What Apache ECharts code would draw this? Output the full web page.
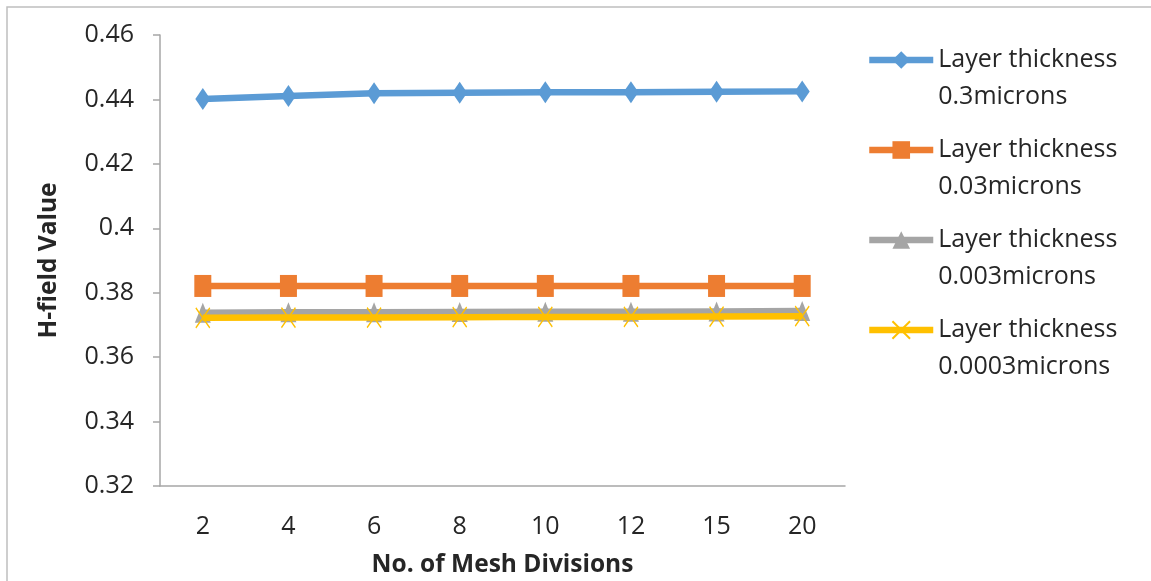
<!DOCTYPE html>
<html>
<head>
<meta charset="utf-8">
<script src="https://cdn.jsdelivr.net/npm/echarts@6/dist/echarts.min.js"></script>
<style>
  html, body { margin: 0; padding: 0; background: #fff; }
  #main { width: 1151px; height: 581px; }
</style>
</head>
<body>
<div id="main"></div>
<script>
// data
var meshDivisions = ['2', '4', '6', '8', '10', '12', '15', '20'];
var names = ['Layer thickness 0.3microns', 'Layer thickness 0.03microns',
             'Layer thickness 0.003microns', 'Layer thickness 0.0003microns'];
var h03 = [0.4401, 0.4411, 0.4419, 0.4421, 0.4422, 0.4422, 0.4424, 0.4425];
var h003 = [0.3821, 0.3821, 0.3821, 0.3821, 0.3821, 0.3821, 0.3821, 0.3821];
var h0003 = [0.3738, 0.3739, 0.3739, 0.3740, 0.3741, 0.3741, 0.3742, 0.3743];
var h00003 = [0.3722, 0.3723, 0.3723, 0.3724, 0.3725, 0.3725, 0.3726, 0.3727];
var yTicks = [0.32, 0.34, 0.36, 0.38, 0.4, 0.42, 0.44, 0.46];

var font = '"Open Sans", "Liberation Sans", sans-serif';
var colors = ['#5B9BD5', '#ED7D31', '#A5A5A5', '#FFC000'];
var crossPath = 'path://M0,0 L10,12 M10,0 L0,12';

var myChart = echarts.init(document.getElementById('main'));

function makeSeries(i, data, symbol, size) {
    var s = {
        name: names[i],
        type: 'line',
        data: data,
        symbol: symbol,
        symbolSize: size,
        lineStyle: { width: 6.5, color: colors[i] },
        itemStyle: { color: colors[i] },
        z: 2 + (i == 3 ? 1 : 0)
    };
    if (i == 3) {
        s.itemStyle = { color: 'rgba(0,0,0,0)', borderColor: colors[i], borderWidth: 1.5 };
    }
    return s;
}

// one legend per item; a blank first line keeps "Layer thickness" level with the icon
var legends = [];
for (var i = 0; i < names.length; i++) {
    legends.push({
        data: [names[i]],
        orient: 'vertical',
        left: 866,
        top: 60 + i * 90 - 55.5,
        padding: 0,
        itemWidth: 64,
        itemHeight: 22,
        itemGap: 0,
        lineStyle: { width: 6.5 },
        formatter: function (n) { return '\n' + n.replace(' 0', '\n0'); },
        textStyle: {
            fontFamily: font, fontSize: 25, color: '#262626',
            lineHeight: 37
        }
    });
}

var option = {
    animation: false,
    color: colors,
    grid: { left: 160, right: 306, top: 35, bottom: 95, containLabel: false, outerBoundsMode: 'none' },
    legend: legends,
    xAxis: {
        type: 'category',
        data: meshDivisions,
        boundaryGap: true,
        name: 'No. of Mesh Divisions',
        nameLocation: 'middle',
        nameGap: 67,
        nameTextStyle: { fontFamily: font, fontSize: 24.5, fontWeight: 'bold', color: '#262626' },
        axisLine: { lineStyle: { color: '#A6A6A6', width: 1.5 } },
        axisTick: { show: false },
        axisLabel: { fontFamily: font, fontSize: 25, color: '#262626', margin: 28 },
        splitLine: { show: false }
    },
    yAxis: {
        type: 'value',
        min: yTicks[0],
        max: yTicks[yTicks.length - 1],
        interval: 0.02,
        name: 'H-field Value',
        nameLocation: 'middle',
        nameGap: 98,
        nameTextStyle: { fontFamily: font, fontSize: 24.5, fontWeight: 'bold', color: '#262626' },
        axisLine: { show: true, lineStyle: { color: '#A6A6A6', width: 1.5 } },
        axisTick: { show: true, length: 7, lineStyle: { color: '#A6A6A6', width: 1.5 } },
        axisLabel: {
            fontFamily: font, fontSize: 25, color: '#262626', margin: 26,
            formatter: function (v) { return String(+v.toFixed(2)); }
        },
        splitLine: { show: false }
    },
    graphic: [{
        type: 'rect',
        shape: { x: 7, y: 7, width: 1160, height: 600 },
        style: { fill: 'none', stroke: '#BFBFBF', lineWidth: 1.5 },
        silent: true
    }],
    series: [
        makeSeries(0, h03, 'diamond', [15, 22]),
        makeSeries(1, h003, 'rect', [17, 22]),
        makeSeries(2, h0003, 'triangle', [16, 20]),
        makeSeries(3, h00003, crossPath, [14, 20])
    ]
};

myChart.setOption(option);
</script>
</body>
</html>
